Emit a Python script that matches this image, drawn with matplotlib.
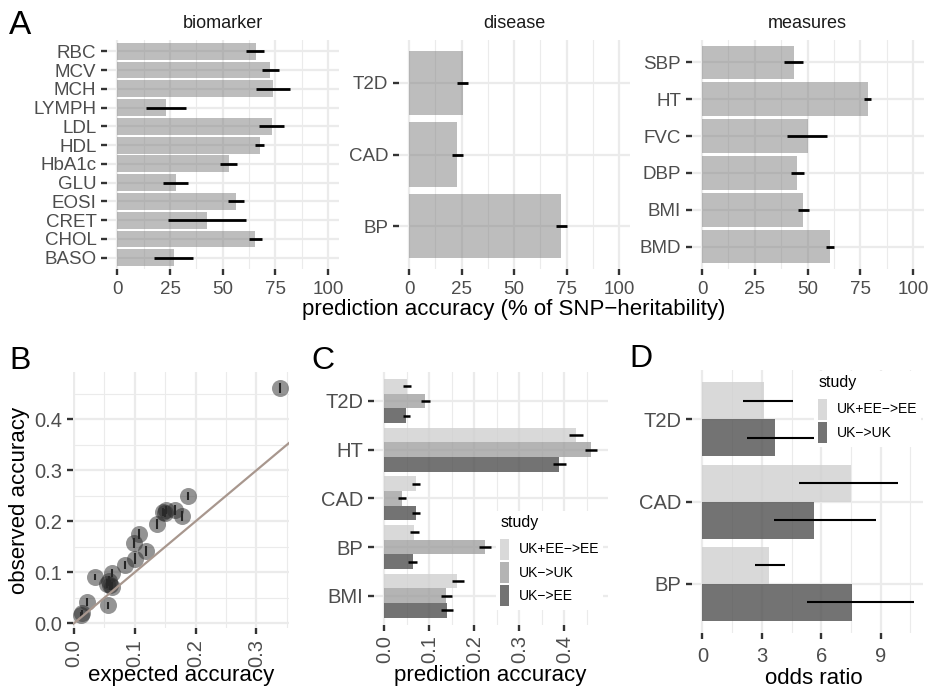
import numpy as np
import matplotlib
matplotlib.use("Agg")
import matplotlib.pyplot as plt
from matplotlib.patches import Patch
from matplotlib.ticker import NullLocator

plt.rcParams["font.family"] = ["Liberation Sans", "DejaVu Sans"]

# ---- panel A: accuracy as % of SNP-heritability (bottom -> top, as ggplot orders them)
BIO_LABELS = ["BASO", "CHOL", "CRET", "EOSI", "GLU", "HbA1c", "HDL", "LDL",
              "LYMPH", "MCH", "MCV", "RBC"]
BIO_ACC = [26.7, 65.5, 42.4, 56.3, 27.7, 52.8, 67.5, 73.2, 22.9, 74.0, 72.6, 65.6]
BIO_LO = [17.6, 62.6, 24.2, 52.7, 21.8, 48.9, 65.5, 67.4, 13.6, 65.8, 68.5, 61.1]
BIO_HI = [36.1, 68.5, 60.9, 60.0, 33.4, 56.6, 69.6, 78.9, 32.4, 81.9, 76.9, 69.7]

DIS_LABELS = ["BP", "CAD", "T2D"]
DIS_ACC = [72.5, 22.9, 25.5]
DIS_LO = [70.1, 20.6, 22.9]
DIS_HI = [75.3, 25.5, 28.2]

MEAS_LABELS = ["BMD", "BMI", "DBP", "FVC", "HT", "SBP"]
MEAS_ACC = [60.8, 48.0, 45.2, 50.1, 78.5, 43.4]
MEAS_LO = [58.8, 45.3, 42.2, 40.1, 76.9, 39.0]
MEAS_HI = [62.7, 50.9, 48.5, 59.4, 80.2, 47.9]

# ---- panel B: expected vs observed accuracy
EXP_ACC = [0.338, 0.188, 0.177, 0.166, 0.152, 0.146, 0.150, 0.136, 0.107, 0.099,
           0.118, 0.100, 0.084, 0.0345, 0.062, 0.058, 0.054, 0.062, 0.059, 0.056,
           0.021, 0.0126, 0.011]
OBS_ACC = [0.461, 0.250, 0.210, 0.222, 0.222, 0.219, 0.217, 0.195, 0.175, 0.157,
           0.142, 0.127, 0.114, 0.090, 0.099, 0.083, 0.078, 0.072, 0.075, 0.035,
           0.042, 0.020, 0.017]
OBS_ERR = [0.010, 0.008, 0.010, 0.009, 0.008, 0.008, 0.008, 0.010, 0.010, 0.010,
           0.010, 0.010, 0.008, 0.006, 0.008, 0.010, 0.008, 0.008, 0.010, 0.006,
           0.008, 0.006, 0.005]

# ---- panel C: prediction accuracy by study (traits bottom -> top)
C_TRAITS = ["BMI", "BP", "CAD", "HT", "T2D"]
C_STUDIES = ["UK+EE\u2212>EE", "UK\u2212>UK", "UK\u2212>EE"]
C_ACC = [[0.162, 0.065, 0.070, 0.425, 0.050],
         [0.137, 0.224, 0.039, 0.459, 0.091],
         [0.139, 0.063, 0.070, 0.389, 0.048]]
C_LO = [[0.150, 0.056, 0.061, 0.411, 0.041],
        [0.125, 0.211, 0.031, 0.447, 0.081],
        [0.127, 0.053, 0.061, 0.375, 0.041]]
C_HI = [[0.176, 0.076, 0.080, 0.441, 0.059],
        [0.150, 0.238, 0.048, 0.473, 0.101],
        [0.152, 0.073, 0.080, 0.404, 0.058]]

# ---- panel D: odds ratios
D_TRAITS = ["BP", "CAD", "T2D"]
D_STUDIES = ["UK+EE\u2212>EE", "UK\u2212>UK"]
D_OR = [[3.37, 7.51, 3.11],
        [7.54, 5.62, 3.67]]
D_LO = [[2.64, 4.87, 2.04],
        [5.27, 3.60, 2.24]]
D_HI = [[4.19, 9.90, 4.60],
        [10.71, 8.77, 5.69]]

W, H = 930, 690
GRID = "#ebebeb"
TICKC = "#333333"
LABC = "#4d4d4d"


def box(l, t, r, b):
    return [l / W, 1 - b / H, (r - l) / W, (b - t) / H]


def style(ax, xmajor, xminor, size):
    for s in ax.spines.values():
        s.set_visible(False)
    ax.set_xticks(xmajor)
    ax.set_xticks(xminor, minor=True)
    ax.grid(which="major", color=GRID, lw=1.6)
    ax.grid(which="minor", color=GRID, lw=0.8)
    ax.set_axisbelow(True)
    ax.tick_params(which="major", length=4, width=1.7, color=TICKC,
                   labelcolor=LABC, labelsize=size, pad=3.5)
    ax.tick_params(which="minor", length=0)


def cat_axis(ax, labels):
    ax.set_yticks(range(len(labels)))
    ax.set_yticklabels(labels)
    ax.yaxis.set_minor_locator(NullLocator())
    ax.set_ylim(-0.6, len(labels) - 0.4)


def legend(handles, labels, x, y):
    leg = fig.legend(handles, labels, title="study", loc="upper left",
                     bbox_to_anchor=(x / W, 1 - y / H), frameon=True,
                     facecolor="white", edgecolor="none", framealpha=1,
                     fancybox=False, fontsize=10, title_fontsize=11.5,
                     handlelength=0.63, handleheight=1.95, labelspacing=0.17,
                     handletextpad=0.7, borderpad=0.3, borderaxespad=0,
                     alignment="left")
    leg._legend_box.sep = 6  # a bit more room under the title, like ggplot
    return leg


fig = plt.figure(figsize=(W / 100, H / 100), dpi=100)

# ---- A
facets = [("biomarker", BIO_LABELS, BIO_ACC, BIO_LO, BIO_HI, (106.8, 338.6)),
          ("disease", DIS_LABELS, DIS_ACC, DIS_LO, DIS_HI, (398.5, 629.8)),
          ("measures", MEAS_LABELS, MEAS_ACC, MEAS_LO, MEAS_HI, (691.5, 923.6))]
for name, labs, acc, lo, hi, (l, r) in facets:
    ax = fig.add_axes(box(l, 40, r, 269))
    y = np.arange(len(labs))
    ax.barh(y, acc, height=0.9, color="#7d7d7d", alpha=0.5, zorder=2)
    ax.hlines(y, lo, hi, color="black", lw=2.0, zorder=3)
    style(ax, [0, 25, 50, 75, 100], [12.5, 37.5, 62.5, 87.5], 13.5)
    ax.tick_params(axis="x", pad=4.5)
    cat_axis(ax, labs)
    ax.set_xlim(-5, 105)
    fig.text((l + r) / 2 / W, 1 - 23 / H, name, ha="center", va="center",
             fontsize=13, color="#1a1a1a")
fig.text(514 / W, 1 - 309 / H, "prediction accuracy (% of SNP\u2212heritability)",
         ha="center", va="center", fontsize=16)

# ---- B
ax = fig.add_axes(box(72.7, 371.7, 289.3, 628.3))
ax.errorbar(EXP_ACC, OBS_ACC, yerr=OBS_ERR, fmt="none", ecolor="#222222",
            elinewidth=1.5, zorder=2)
ax.scatter(EXP_ACC, OBS_ACC, s=150, color="#2a2a2a", alpha=0.5, lw=0, zorder=3)
ax.axline((0, 0), slope=1, color="#a8978e", lw=1.6, zorder=4)
style(ax, [0.0, 0.1, 0.2, 0.3], [0.05, 0.15, 0.25, 0.35], 14.5)
ax.set_yticks([0.0, 0.1, 0.2, 0.3, 0.4])
ax.set_yticks([0.05, 0.15, 0.25, 0.35, 0.45], minor=True)
ax.set_xticklabels(["0.0", "0.1", "0.2", "0.3"], rotation=90)
ax.set_xlim(-0.002, 0.354)
ax.set_ylim(-0.0098, 0.4933)
ax.set_ylabel("observed accuracy", fontsize=16, labelpad=3)
fig.text(181 / W, 1 - 681 / H, "expected accuracy", ha="center", va="baseline",
         fontsize=16)

# ---- C
C_COLORS = ["#d0d0d0", "#a1a1a1", "#505050"]
ax = fig.add_axes(box(373.5, 371.7, 607.5, 625))
y = np.arange(len(C_TRAITS))
for k, off in enumerate([0.3, 0.0, -0.3]):
    ax.barh(y + off, C_ACC[k], height=0.3, color=C_COLORS[k], alpha=0.8, zorder=2)
    ax.hlines(y + off, C_LO[k], C_HI[k], color="black", lw=1.8, zorder=3)
style(ax, [0.0, 0.1, 0.2, 0.3, 0.4], [0.05, 0.15, 0.25, 0.35, 0.45], 14.5)
cat_axis(ax, C_TRAITS)
ax.set_xticklabels(["0.0", "0.1", "0.2", "0.3", "0.4"], rotation=90)
ax.set_xlim(-0.024, 0.496)
fig.text(490 / W, 1 - 681 / H, "prediction accuracy", ha="center", va="baseline",
         fontsize=16)
legend([Patch(facecolor=c, alpha=0.8, lw=0) for c in C_COLORS], C_STUDIES, 496, 511)

# ---- D
D_COLORS = ["#d0d0d0", "#505050"]
ax = fig.add_axes(box(691.7, 370, 923, 633.3))
y = np.arange(len(D_TRAITS))
for k, off in enumerate([0.225, -0.225]):
    ax.barh(y + off, D_OR[k], height=0.45, color=D_COLORS[k], alpha=0.8, zorder=2)
    ax.hlines(y + off, D_LO[k], D_HI[k], color="black", lw=1.5, zorder=3)
style(ax, [0, 3, 6, 9], [1.5, 4.5, 7.5, 10.5], 14.5)
ax.tick_params(axis="x", pad=6)
cat_axis(ax, D_TRAITS)
ax.set_xlim(-0.54, 11.14)
fig.text(814 / W, 1 - 684 / H, "odds ratio", ha="center", va="baseline",
         fontsize=16)
legend([Patch(facecolor=c, alpha=0.8, lw=0) for c in D_COLORS], D_STUDIES, 814, 371)

# panel letters
for letter, (px, py), fs in [("A", (20, 25), 24), ("B", (20, 361), 23),
                             ("C", (323, 361), 23), ("D", (641, 359), 23)]:
    fig.text(px / W, 1 - py / H, letter, ha="center", va="center", fontsize=fs)

fig.savefig("out.png", dpi=100)
